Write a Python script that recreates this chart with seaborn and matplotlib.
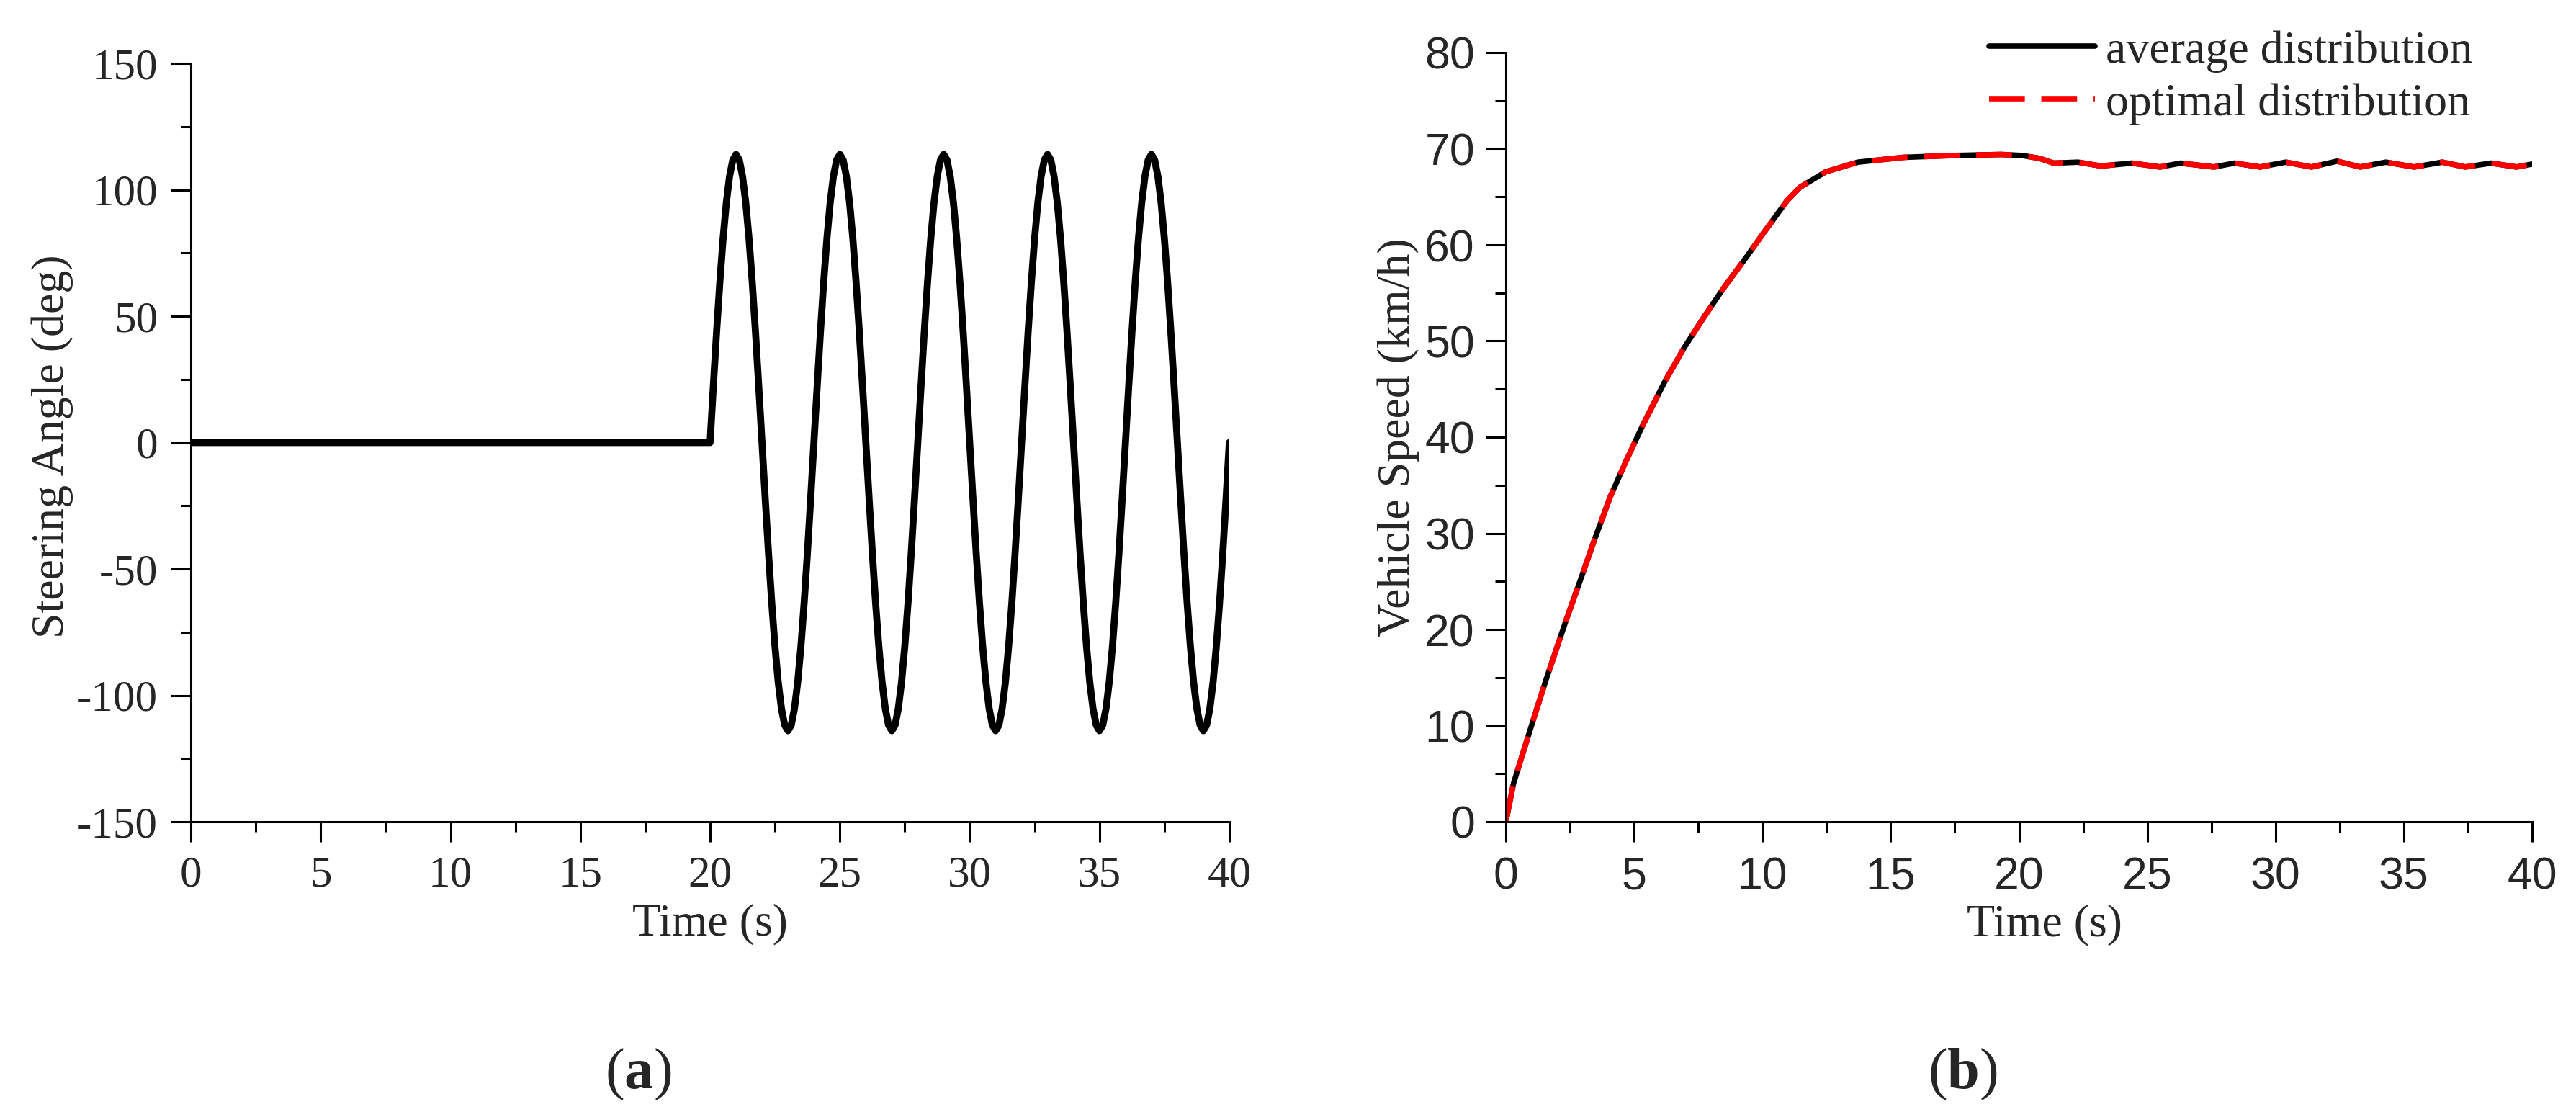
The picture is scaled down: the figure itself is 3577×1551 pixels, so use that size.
import numpy as np
import pandas as pd
import matplotlib
matplotlib.use("Agg")
import matplotlib.pyplot as plt
import seaborn as sns
from matplotlib.ticker import MultipleLocator

# ==========================
# Data
# ==========================
# (a) steering angle input: zero until 20 s, then sine steer
steer_time = [0.0] + list(np.arange(20.0, 40.001, 0.125))
steer_angle = [0.0,
               0.0, 22.2, 43.6, 63.3, 80.6, 94.8, 105.3, 111.8, 114.0, 111.8, 105.3, 94.8, 80.6, 63.3, 43.6, 22.2,
               0.0, -22.2, -43.6, -63.3, -80.6, -94.8, -105.3, -111.8, -114.0, -111.8, -105.3, -94.8, -80.6, -63.3, -43.6, -22.2,
               0.0, 22.2, 43.6, 63.3, 80.6, 94.8, 105.3, 111.8, 114.0, 111.8, 105.3, 94.8, 80.6, 63.3, 43.6, 22.2,
               0.0, -22.2, -43.6, -63.3, -80.6, -94.8, -105.3, -111.8, -114.0, -111.8, -105.3, -94.8, -80.6, -63.3, -43.6, -22.2,
               0.0, 22.2, 43.6, 63.3, 80.6, 94.8, 105.3, 111.8, 114.0, 111.8, 105.3, 94.8, 80.6, 63.3, 43.6, 22.2,
               0.0, -22.2, -43.6, -63.3, -80.6, -94.8, -105.3, -111.8, -114.0, -111.8, -105.3, -94.8, -80.6, -63.3, -43.6, -22.2,
               0.0, 22.2, 43.6, 63.3, 80.6, 94.8, 105.3, 111.8, 114.0, 111.8, 105.3, 94.8, 80.6, 63.3, 43.6, 22.2,
               0.0, -22.2, -43.6, -63.3, -80.6, -94.8, -105.3, -111.8, -114.0, -111.8, -105.3, -94.8, -80.6, -63.3, -43.6, -22.2,
               0.0, 22.2, 43.6, 63.3, 80.6, 94.8, 105.3, 111.8, 114.0, 111.8, 105.3, 94.8, 80.6, 63.3, 43.6, 22.2,
               0.0, -22.2, -43.6, -63.3, -80.6, -94.8, -105.3, -111.8, -114.0, -111.8, -105.3, -94.8, -80.6, -63.3, -43.6, -22.2,
               0.0]

# (b) vehicle speed, km/h
speed_time = [0, 0.3, 0.94, 1.57, 2.38, 2.94, 3.45, 4.07, 4.7, 5.33, 6.2, 6.95,
              7.7, 8.46, 9.34, 10.09, 10.96, 11.47, 12.47, 13.72, 15.5, 17.5,
              19.3, 20.1, 20.8, 21.35, 22.3, 23.2, 24.4, 25.5, 26.3, 27.6, 28.4,
              29.4, 30.4, 31.4, 32.4, 33.3, 34.3, 35.4, 36.5, 37.4, 38.4, 39.4, 40]
speed_avg = [0, 4.0, 9.5, 14.8, 21.2, 25.4, 29.3, 33.8, 37.6, 41.2, 45.8, 49.3,
             52.4, 55.4, 58.6, 61.4, 64.6, 66.0, 67.6, 68.6, 69.1, 69.3,
             69.4, 69.3, 69.0, 68.5, 68.6, 68.2, 68.5, 68.1, 68.5, 68.1, 68.5,
             68.1, 68.6, 68.1, 68.7, 68.1, 68.6, 68.1, 68.6, 68.1, 68.5, 68.1, 68.4]
speed_opt = [0, 4.0, 9.5, 14.8, 21.2, 25.4, 29.3, 33.8, 37.6, 41.2, 45.8, 49.3,
             52.4, 55.4, 58.6, 61.4, 64.6, 66.0, 67.6, 68.6, 69.1, 69.3,
             69.4, 69.3, 69.0, 68.5, 68.6, 68.2, 68.5, 68.1, 68.5, 68.1, 68.5,
             68.1, 68.6, 68.1, 68.7, 68.1, 68.6, 68.1, 68.6, 68.1, 68.5, 68.1, 68.4]

series_labels = ["average distribution", "optimal distribution"]

df_steer = pd.DataFrame({"t": steer_time, "angle": steer_angle})
df_speed = pd.DataFrame({"t": speed_time, "avg": speed_avg, "opt": speed_opt})

# ==========================
# Style
# ==========================
sns.set_style("ticks")
plt.rcParams["font.family"] = ["Liberation Serif", "DejaVu Serif"]
plt.rcParams["axes.unicode_minus"] = False
plt.rcParams["mathtext.fontset"] = "custom"
plt.rcParams["mathtext.rm"] = "Liberation Serif"
plt.rcParams["mathtext.bf"] = "Liberation Serif:bold"

W, H = 3577, 1551
fig = plt.figure(figsize=(W / 100, H / 100), dpi=100)
fig.patch.set_facecolor("white")


def px_axes(x0, y0, x1, y1):
    return fig.add_axes([x0 / W, 1 - y1 / H, (x1 - x0) / W, (y1 - y0) / H])


ax1 = px_axes(265, 88, 1707, 1141)
ax2 = px_axes(2091, 73, 3516, 1141)

# ==========================
# (a) Steering angle
# ==========================
sns.lineplot(data=df_steer, x="t", y="angle", ax=ax1, color="black", lw=7,
             estimator=None, sort=False)
ax1.set_xlim(0, 40)
ax1.set_ylim(-150, 150)
ax1.xaxis.set_major_locator(MultipleLocator(5))
ax1.xaxis.set_minor_locator(MultipleLocator(2.5))
ax1.yaxis.set_major_locator(MultipleLocator(50))
ax1.yaxis.set_minor_locator(MultipleLocator(25))
ax1.set_xlabel("Time (s)", fontsize=46)
ax1.set_ylabel("Steering Angle (deg)", fontsize=46)
ax1.xaxis.set_label_coords(0.5, -0.108)
ax1.yaxis.set_label_coords(-0.113, 0.495)
ax1.tick_params(axis="both", which="major", direction="out", length=20,
                width=2.2, labelsize=44, color="black")
ax1.tick_params(axis="x", which="major", pad=14)
ax1.tick_params(axis="y", which="major", pad=13)
ax1.tick_params(axis="both", which="minor", direction="out", length=10,
                width=2.2, color="black")
sns.despine(ax=ax1)
for s in ["left", "bottom"]:
    ax1.spines[s].set_linewidth(2.2)
    ax1.spines[s].set_color("black")

# ==========================
# (b) Vehicle speed
# ==========================
sns.lineplot(data=df_speed, x="t", y="avg", ax=ax2, color="black", lw=5.5,
             estimator=None, sort=False, label=series_labels[0])
sns.lineplot(data=df_speed, x="t", y="opt", ax=ax2, color="#ff0000", lw=5.5,
             estimator=None, sort=False, label=series_labels[1],
             linestyle=(0, (6.5, 3)))
ax2.set_xlim(0, 40)
ax2.set_ylim(0, 80)
ax2.xaxis.set_major_locator(MultipleLocator(5))
ax2.xaxis.set_minor_locator(MultipleLocator(2.5))
ax2.yaxis.set_major_locator(MultipleLocator(10))
ax2.yaxis.set_minor_locator(MultipleLocator(5))
ax2.set_xlabel("Time (s)", fontsize=46)
ax2.set_ylabel("Vehicle Speed (km/h)", fontsize=46)
ax2.xaxis.set_label_coords(0.525, -0.107)
ax2.yaxis.set_label_coords(-0.084, 0.5)
ax2.tick_params(axis="both", which="major", direction="out", length=20,
                width=2.2, labelsize=45, color="black")
ax2.tick_params(axis="x", which="major", pad=14)
ax2.tick_params(axis="y", which="major", pad=11)
ax2.tick_params(axis="both", which="minor", direction="out", length=11,
                width=2.2, color="black")
for lab in ax2.get_xticklabels() + ax2.get_yticklabels():
    lab.set_fontfamily(["Liberation Sans", "DejaVu Sans"])
sns.despine(ax=ax2)
for s in ["left", "bottom"]:
    ax2.spines[s].set_linewidth(2.2)
    ax2.spines[s].set_color("black")

ax2.legend(loc="upper left", bbox_to_anchor=(2762 / W, 1 - 42 / H),
           bbox_transform=fig.transFigure, frameon=False, fontsize=46,
           handlelength=2.3, handletextpad=0.23, labelspacing=0.22,
           borderpad=0, borderaxespad=0)

# ==========================
# Panel letters
# ==========================
fig.text(886 / W, 1 - 1492 / H, r"($\mathbf{a}$)", fontsize=58,
         ha="center", va="center")
fig.text(2725 / W, 1 - 1492 / H, r"($\mathbf{b}$)", fontsize=58,
         ha="center", va="center")

fig.savefig("out.png", dpi=100, facecolor="white")
